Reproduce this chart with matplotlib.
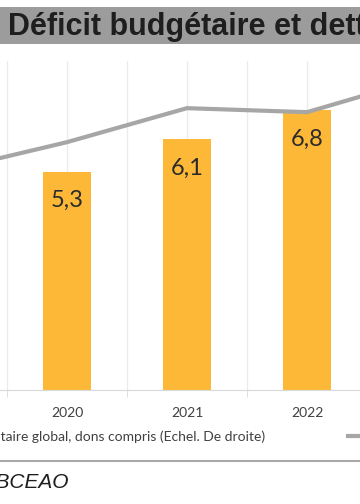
import matplotlib
matplotlib.use("Agg")
import matplotlib.pyplot as plt
from matplotlib.patches import Rectangle
from matplotlib.lines import Line2D
import numpy as np

DPI = 100
W, H = 360, 504

# data
years = [2019, 2020, 2021, 2022, 2023]
bar_years = [2020, 2021, 2022]
deficit = [5.3, 6.1, 6.8]                     # left scale, % du PIB
debt = [60.0, 67.8, 77.1, 76.0, 85.6]         # right scale
bar_labels = ["5,3", "6,1", "6,8"]

BAR_COLOR = "#fdb838"
LINE_COLOR = "#a6a6a6"
TEXT_FONT = ["Lato", "DejaVu Sans"]


def px(x, y):
    # pixel coords (from top-left) -> figure fraction
    return x / W, (H - y) / H


fig = plt.figure(figsize=(W / DPI, H / DPI), dpi=DPI)

# title band
fig.add_artist(Rectangle(px(0, 44), 1, 37 / H, transform=fig.transFigure,
                         facecolor="#9c9c9c", edgecolor="none"))
fig.text(*px(8, 27), "Déficit budgétaire et dette publique", ha="left", va="center",
         fontsize=22, fontweight="bold", color="#1e1e1e", family="Liberation Sans")

# main axes, wider than the picture (cropped on both sides)
left, right, top, bottom = -113, 487, 61, 390
ax = fig.add_axes([left / W, (H - bottom) / H, (right - left) / W, (bottom - top) / H])
x = np.arange(len(years))
bx = [years.index(y) for y in bar_years]

bars = ax.bar(bx, deficit, width=0.4, color=BAR_COLOR, zorder=2)
for rect, lab in zip(bars, bar_labels):
    ax.text(rect.get_x() + rect.get_width() / 2, rect.get_height() - 0.7, lab,
            ha="center", va="center", fontsize=17, color="#2b2b2b", family=TEXT_FONT)

ax.set_xlim(-0.5, len(years) - 0.5)
ax.set_ylim(0, 8)
ax.set_xticks(x)
ax.set_xticklabels([str(y) for y in years], fontsize=10, color="#404040", family=TEXT_FONT)
ax.set_xticks(np.arange(-0.5, len(years), 1.0), minor=True)
ax.tick_params(axis="x", which="major", length=0, pad=12)
ax.tick_params(axis="x", which="minor", length=5, color="#d9d9d9")
ax.set_yticks([])
ax.grid(axis="x", which="both", color="#ececec", linewidth=1, zorder=0)
ax.set_axisbelow(True)
for s in ["top", "left", "right"]:
    ax.spines[s].set_visible(False)
ax.spines["bottom"].set_color("#d9d9d9")

ax2 = ax.twinx()
ax2.plot(x, debt, color=LINE_COLOR, linewidth=3, solid_joinstyle="miter")
ax2.set_ylim(0, 90)
ax2.set_yticks([])
for s in ax2.spines.values():
    s.set_visible(False)

# legend (cropped in the original)
fig.text(*px(265, 437), "Déficit budgétaire global, dons compris (Echel. De droite)",
         ha="right", va="center", fontsize=10, color="#404040", family=TEXT_FONT)
lx0, ly = px(348, 436)
fig.add_artist(Line2D([lx0, 1.05], [ly, ly], transform=fig.transFigure,
                      color=LINE_COLOR, linewidth=3))

# separator + source
sy = px(0, 461)[1]
fig.add_artist(Line2D([0, 1], [sy, sy], transform=fig.transFigure, color="#a8a8a8", linewidth=1.5))
fig.text(*px(68, 483), "Source : BCEAO", ha="right", va="center", fontsize=15,
         style="italic", color="#1e1e1e", family="Liberation Sans")

plt.savefig("out.png", dpi=DPI)
